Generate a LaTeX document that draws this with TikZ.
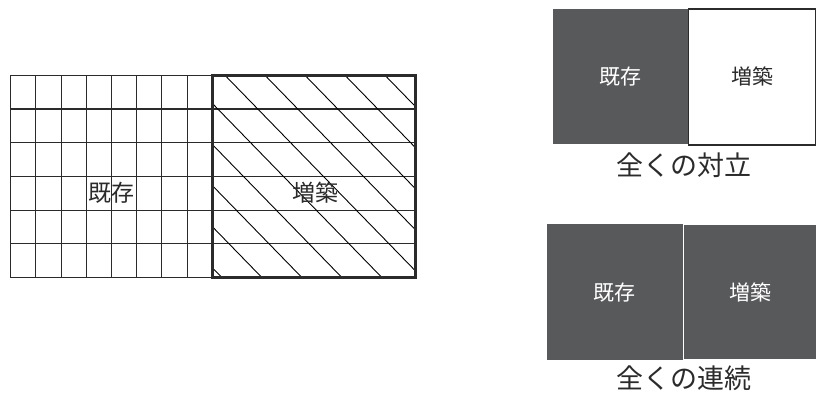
\documentclass[tikz,border=0pt]{standalone}
\usepackage{fontspec}
\usetikzlibrary{calc}
\newfontfamily\jp{Noto Sans CJK JP}
\definecolor{boxgray}{HTML}{58595B}
\definecolor{linegray}{HTML}{2B2B2B}
\tikzset{
  thinline/.style={draw=linegray, line width=1.1pt},
  thickline/.style={draw=linegray, line width=3pt},
  hatchline/.style={draw=black, line width=0.9pt},
  gridlabel/.style={font=\jp\fontsize{23}{23}\selectfont, text=linegray, inner sep=0pt},
  darkbox/.style={fill=boxgray, draw=none, inner sep=0pt, anchor=north west},
  boxlabel/.style={font=\jp\fontsize{21}{21}\selectfont, text=white, inner sep=0pt},
  caption/.style={font=\jp\fontsize{27}{27}\selectfont, text=linegray, inner sep=0pt}
}
\begin{document}
\begin{tikzpicture}[x=1pt,y=-1pt]
\useasboundingbox (0,0) rectangle (816,394);
% ---- left: grid ----
\node[inner sep=0pt, minimum width=201.6pt, minimum height=202pt, anchor=north west] (exist) at (10.7,75.3) {};
\node[inner sep=0pt, minimum width=202.7pt, minimum height=202pt, anchor=north west] (add) at (212.3,75.3) {};
% horizontal lines across both
\foreach \yy in {75.3,109.0,142.7,176.4,210.1,243.8,277.3} {
  \draw[thinline] (exist.west |- 0,\yy) -- (add.east |- 0,\yy);
}
% vertical lines in existing part
\foreach \k in {0,...,7} {
  \draw[thinline] ($(exist.north west)+(25.2*\k,0)$) -- ($(exist.south west)+(25.2*\k,0)$);
}
% hatch in addition part
\begin{scope}
  \clip (add.north west) rectangle (add.south east);
  \foreach \k in {-6,...,5} {
    \draw[hatchline] (225+40*\k-30,75.3-30.8) -- (225+40*\k+240,75.3+246.5);
  }
\end{scope}
\draw[thickline] (add.north west) rectangle (add.south east);
\node[gridlabel] (exlabel) at (111.5,193) {既存};
\node[gridlabel] (addlabel) at (315.5,192.5) {増築};
% ---- right top: total opposition ----
\node[darkbox, minimum width=135pt, minimum height=135.7pt] (opex) at (552.7,8.3) {};
\node[inner sep=0pt, minimum width=127pt, minimum height=135.7pt, anchor=north west, draw=linegray, line width=1.6pt, fill=white] (opadd) at (687.7,8.3) {};
\node[boxlabel] at (opex.center) {既存};
\node[boxlabel, text=linegray] at (opadd.center) {増築};
\node[caption] (opcap) at (684,165) {全くの対立};
% ---- right bottom: total continuity ----
\node[darkbox, minimum width=135.6pt, minimum height=136pt] (coex) at (546.7,224) {};
\node[darkbox, minimum width=132.3pt, minimum height=134pt] (coadd) at (684,225) {};
\node[boxlabel] at (coex.center) {既存};
\node[boxlabel] at (coadd.center) {増築};
\node[caption] (cocap) at (684,378) {全くの連続};
\end{tikzpicture}
\end{document}
